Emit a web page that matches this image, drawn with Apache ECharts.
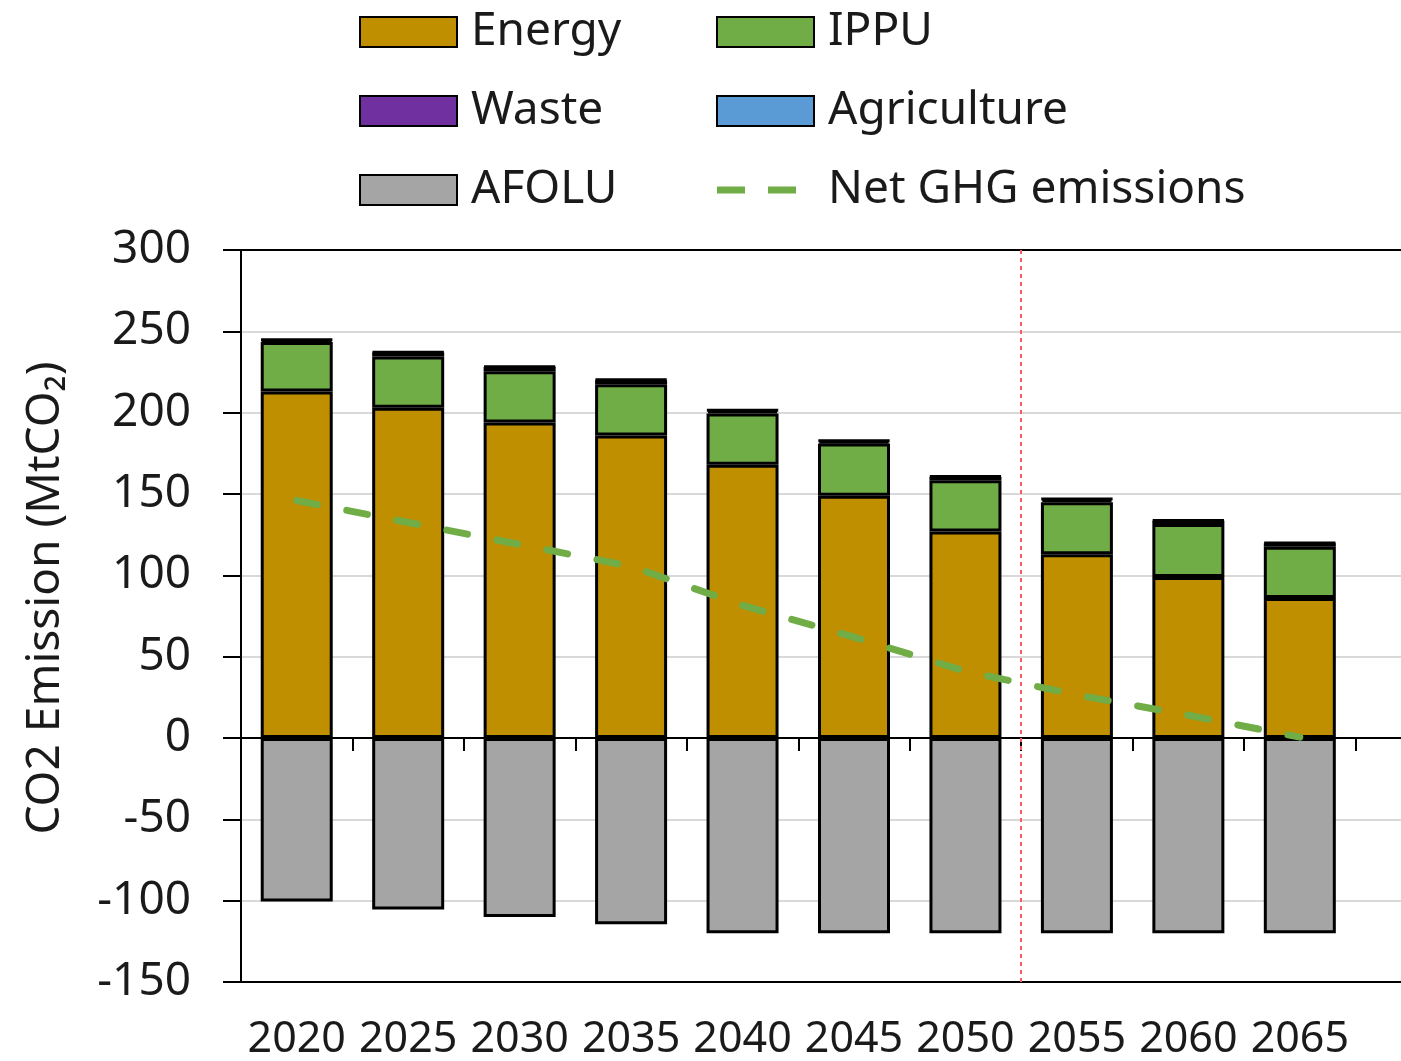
<!DOCTYPE html>
<html>
<head>
<meta charset="utf-8">
<title>CO2 Emission</title>
<script src="https://cdn.jsdelivr.net/npm/echarts@6/dist/echarts.min.js"></script>
<style>
    html, body { margin: 0; padding: 0; background: #fff; }
    #emission { width: 1401px; height: 1061px; }
</style>
</head>
<body>
<div id="emission"></div>
<script>
// years on the axis, last slot is the empty space at the right of the frame
var years = ['2020', '2025', '2030', '2035', '2040', '2045', '2050', '2055', '2060', '2065', ''];
var energy = [213, 203, 194, 186, 168, 149, 127, 113, 99, 86];
var ippu = [30.5, 31.5, 31.5, 31.5, 31.5, 32, 31.5, 32, 32.5, 31.5];
var waste = [1.2, 2.5, 2.6, 2.5, 1.8, 1.6, 2.0, 1.7, 2.0, 2.2];
var agriculture = [0.4, 0.4, 0.4, 0.4, 0.4, 0.4, 0.4, 0.4, 0.4, 0.4];
var afolu = [-100.5, -105.5, -110, -114.5, -120, -120, -120, -120, -120, -120];
var netGhg = [146, 132.5, 119, 105.5, 81.5, 62, 41, 26.5, 14, 0.5];
var yTicks = { min: -150, max: 300, interval: 50 };
// boundary between 2050 and 2055 (in category slots)
var policyBoundary = 7;

function DrawEmission() {
    var chart = echarts.init(document.getElementById('emission'));
    var font = 'Noto Sans';

    function barSeries(name, data, color) {
        return {
            name: name,
            type: 'bar',
            stack: 'total',
            barWidth: 72,
            xAxisIndex: 0,
            yAxisIndex: 0,
            itemStyle: { color: color, borderColor: '#000', borderWidth: 3 },
            data: data
        };
    }

    var legendText = {
        fontFamily: font,
        fontSize: 46,
        color: '#1a1a1a',
        lineHeight: 48,
        padding: [0, 0, 0, 9]
    };
    // two short dashes, padded to the icon width
    var dashIcon = 'path://M0,0h28v7h-28z M51,0h28v7h-28z M97,3.5h0.01v0.01h-0.01z';

    var option = {
        animation: false,
        backgroundColor: '#fff',
        textStyle: { fontFamily: font },
        legend: [
            {
                orient: 'vertical',
                left: 359,
                top: 8,
                padding: 0,
                icon: 'rect',
                itemWidth: 97,
                itemHeight: 30,
                itemGap: 31,
                textStyle: legendText,
                data: ['Energy', 'Waste', 'AFOLU']
            },
            {
                orient: 'vertical',
                left: 716,
                top: 8,
                padding: 0,
                icon: 'rect',
                itemWidth: 97,
                itemHeight: 30,
                itemGap: 31,
                textStyle: legendText,
                data: ['IPPU', 'Agriculture', { name: 'Net GHG emissions', icon: dashIcon }]
            }
        ],
        grid: {
            left: 241,
            top: 250,
            width: 1226,
            height: 732,
            outerBoundsMode: 'none',
            containLabel: false,
            show: true,
            borderColor: '#000',
            borderWidth: 2
        },
        xAxis: [
            {
                // bottom frame with the year labels
                type: 'category',
                data: years,
                position: 'bottom',
                axisLine: { onZero: false, lineStyle: { color: '#000', width: 2 } },
                axisTick: { show: false },
                axisLabel: {
                    interval: 0,
                    margin: 36,
                    fontFamily: font,
                    fontSize: 43,
                    color: '#1a1a1a'
                },
                splitLine: { show: false }
            },
            {
                // zero line with ticks between the years
                type: 'category',
                data: years,
                position: 'bottom',
                axisLine: { onZero: true, onZeroAxisIndex: 0, lineStyle: { color: '#000', width: 2 } },
                axisTick: { show: true, interval: 0, length: 13, lineStyle: { color: '#000', width: 2 } },
                axisLabel: { show: false },
                splitLine: { show: false }
            },
            {
                // helper for the dotted divider
                type: 'value',
                min: 0,
                max: years.length,
                show: false,
                axisLine: { onZero: false }
            },
            {
                // top frame line
                type: 'category',
                data: years,
                position: 'top',
                axisLine: { onZero: false, lineStyle: { color: '#000', width: 2 } },
                axisTick: { show: false },
                axisLabel: { show: false },
                splitLine: { show: false }
            }
        ],
        yAxis: {
            type: 'value',
            min: yTicks.min,
            max: yTicks.max,
            interval: yTicks.interval,
            name: 'CO2 Emission (MtCO₂)',
            nameLocation: 'middle',
            nameGap: 172,
            nameTextStyle: {
                fontFamily: font,
                fontSize: 46,
                color: '#1a1a1a',
                padding: [0, 0, 0, 36]
            },
            axisLine: { show: true, onZero: false, lineStyle: { color: '#000', width: 2 } },
            axisTick: { show: true, length: 18, lineStyle: { color: '#000', width: 2 } },
            axisLabel: {
                margin: 50,
                fontFamily: font,
                fontSize: 46,
                color: '#1a1a1a'
            },
            splitLine: { show: true, lineStyle: { color: '#d9d9d9', width: 2 } }
        },
        series: [
            barSeries('Energy', energy, '#BF8F00'),
            barSeries('IPPU', ippu, '#70AD47'),
            barSeries('Waste', waste, '#7030A0'),
            barSeries('Agriculture', agriculture, '#5B9BD5'),
            barSeries('AFOLU', afolu, '#A5A5A5'),
            {
                name: 'Net GHG emissions',
                type: 'line',
                xAxisIndex: 0,
                yAxisIndex: 0,
                symbol: 'none',
                z: 5,
                lineStyle: { color: '#70AD47', width: 7, type: [21, 30], cap: 'round' },
                itemStyle: { color: '#70AD47' },
                data: netGhg
            },
            {
                name: 'divider',
                type: 'line',
                xAxisIndex: 2,
                yAxisIndex: 0,
                data: [],
                silent: true,
                markLine: {
                    silent: true,
                    symbol: ['none', 'none'],
                    label: { show: false },
                    lineStyle: { color: '#ff5a5a', width: 2, type: [4, 4] },
                    data: [{ xAxis: policyBoundary }]
                }
            }
        ]
    };
    chart.setOption(option);
}

DrawEmission();
</script>
</body>
</html>
